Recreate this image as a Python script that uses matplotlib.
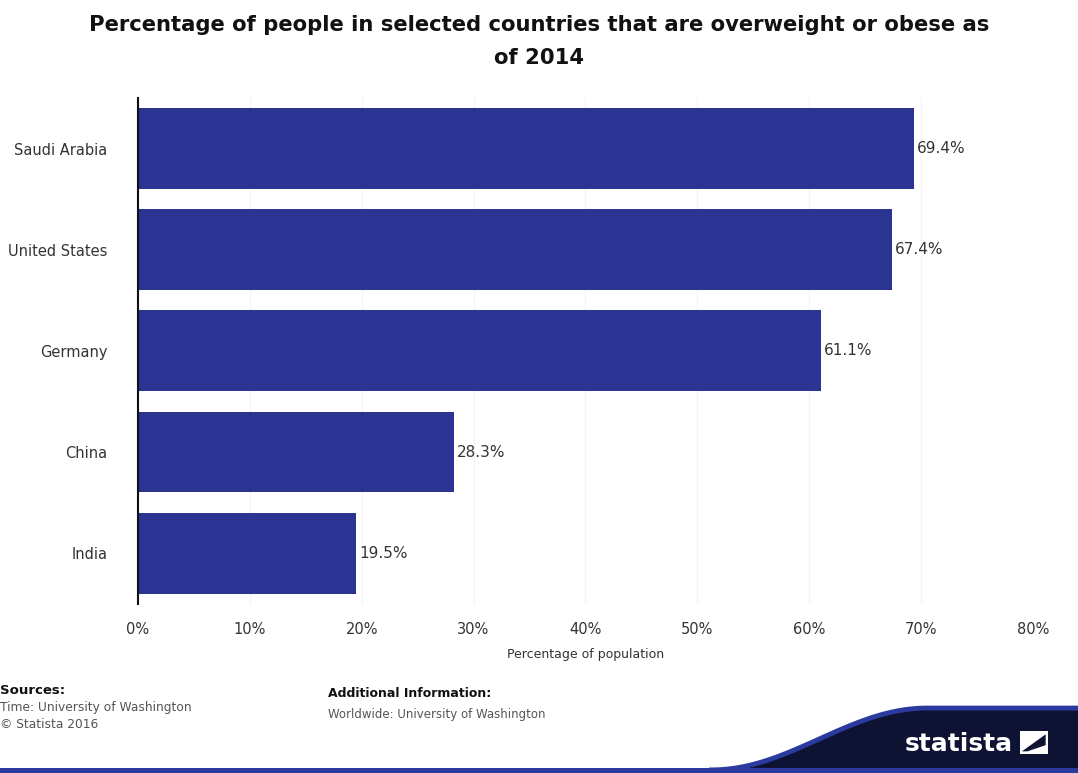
import matplotlib
matplotlib.use("Agg")
import matplotlib.pyplot as plt
import numpy as np
from matplotlib.patches import Polygon
from matplotlib.lines import Line2D

countries = ["Saudi Arabia", "United States", "Germany", "China", "India"]
shares = [69.4, 67.4, 61.1, 28.3, 19.5]
x_ticks = [0, 10, 20, 30, 40, 50, 60, 70, 80]

bar_color = "#2b3393"
text_color = "#333333"

fig = plt.figure(figsize=(10.78, 7.73), dpi=100)
ax = fig.add_axes([0.128, 0.219, 0.830, 0.654])

pos = np.arange(len(countries))
ax.barh(pos, shares, height=0.8, color=bar_color, zorder=2)
for p, v in zip(pos, shares):
    ax.text(v + 0.25, p, f"{v}%", va="center", ha="left", fontsize=11, color=text_color)

ax.set_ylim(len(countries) - 0.5, -0.5)
ax.set_xlim(0, 80)
ax.set_yticks(pos)
ax.set_yticklabels(countries, fontsize=10.5, color=text_color)
ax.set_xticks(x_ticks)
ax.set_xticklabels([f"{t}%" for t in x_ticks], fontsize=10.5, color=text_color)
ax.tick_params(axis="both", length=0)
ax.tick_params(axis="y", pad=22)
ax.tick_params(axis="x", pad=13)
ax.set_xlabel("Percentage of population", fontsize=9, color=text_color, labelpad=8)
ax.grid(axis="x", color="#f4f4f4", lw=0.8, zorder=0)
for s in ["top", "right", "bottom"]:
    ax.spines[s].set_visible(False)
ax.spines["left"].set_color("#111111")
ax.spines["left"].set_linewidth(1.5)

fig.text(0.5, 0.98, "Percentage of people in selected countries that are overweight or obese as\nof 2014",
         ha="center", va="top", fontsize=15.2, fontweight="heavy", color="#111111", linespacing=1.8)

# footer
fig.text(0.0, 0.107, "Sources:", fontsize=9.5, fontweight="bold", color="#111111", va="center")
fig.text(0.0, 0.085, "Time: University of Washington", fontsize=8.8, color="#555555", va="center")
fig.text(0.0, 0.063, "\u00a9 Statista 2016", fontsize=8.8, color="#555555", va="center")
fig.text(0.304, 0.103, "Additional Information:", fontsize=9, fontweight="bold", color="#111111", va="center")
fig.text(0.304, 0.076, "Worldwide: University of Washington", fontsize=8.5, color="#555555", va="center")

# logo band in the lower right corner
t = np.linspace(0, 1, 60)
xs = 0.66 + 0.20 * t
ys = 0.004 + 0.080 * (0.5 - 0.5 * np.cos(np.pi * t))
edge_x = list(xs) + [1.0]
edge_y = list(ys) + [ys[-1]]
band = list(zip(edge_x, edge_y)) + [(1.0, 0.0), (0.66, 0.0)]
fig.patches.append(Polygon(band, closed=True, transform=fig.transFigure,
                           facecolor="#0e1233", edgecolor="none"))
fig.lines.append(Line2D(edge_x, edge_y, transform=fig.transFigure, color="#2b3a9e", lw=3.5))
fig.patches.append(plt.Rectangle((0, 0), 1, 0.006, transform=fig.transFigure,
                                 facecolor="#2b3a9e", edgecolor="none"))
fig.text(0.839, 0.038, "statista", fontsize=18, fontweight="bold", color="white", va="center", ha="left")
fig.patches.append(Polygon([(0.946, 0.024), (0.972, 0.024), (0.972, 0.054), (0.946, 0.054)],
                           closed=True, transform=fig.transFigure, facecolor="white", edgecolor="none"))
fig.patches.append(Polygon([(0.948, 0.028), (0.970, 0.050), (0.970, 0.036), (0.953, 0.028)],
                           closed=True, transform=fig.transFigure, facecolor="#0e1233", edgecolor="none"))

fig.savefig("out.png", dpi=100)
